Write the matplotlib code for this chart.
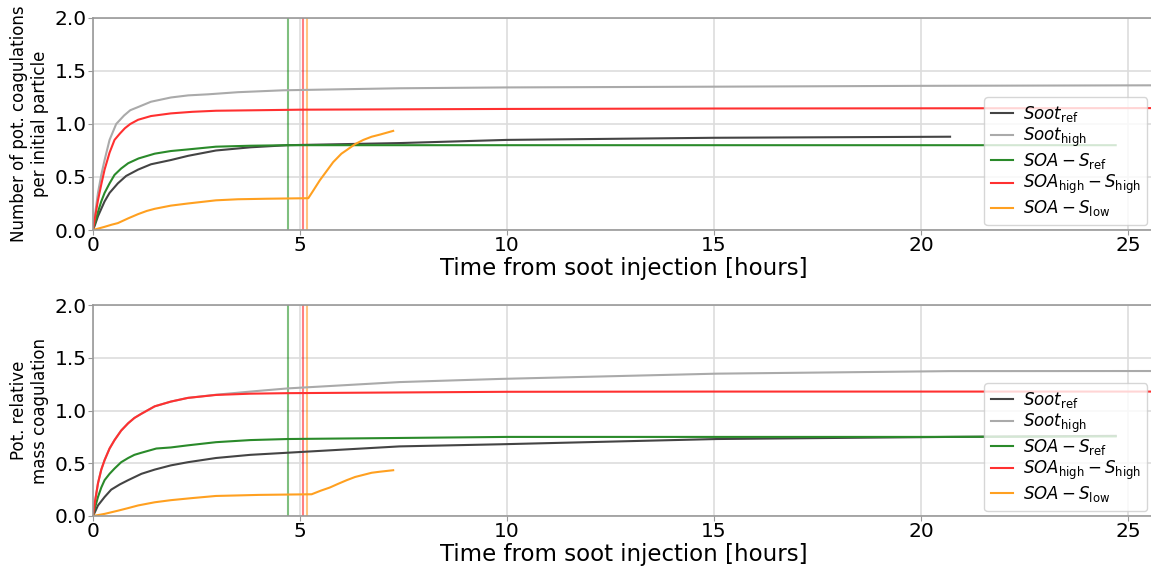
import matplotlib
matplotlib.use("Agg")
import matplotlib.pyplot as plt

# --- number of potential coagulations per initial particle (top) ---
t_num_soot_ref = [0, 0.05, 0.12, 0.2, 0.28, 0.4, 0.6, 0.8, 1.09, 1.4, 1.88, 2.3, 2.97, 3.8,
                  4.7, 7.4, 10, 15, 20.7]
num_soot_ref = [0, 0.05, 0.13, 0.2, 0.27, 0.35, 0.44, 0.51, 0.57, 0.62, 0.66, 0.70, 0.75, 0.78,
                0.80, 0.82, 0.85, 0.87, 0.88]

t_num_soot_high = [0, 0.05, 0.12, 0.2, 0.28, 0.4, 0.56, 0.75, 0.9, 1.09, 1.4, 1.88, 2.3, 2.78,
                   3.5, 4.6, 7.4, 10, 15, 20, 25.7]
num_soot_high = [0, 0.15, 0.35, 0.52, 0.66, 0.85, 1.0, 1.08, 1.13, 1.16, 1.21, 1.25, 1.27, 1.28,
                 1.30, 1.318, 1.337, 1.345, 1.352, 1.36, 1.365]

t_num_soa_ref = [0, 0.05, 0.12, 0.2, 0.28, 0.4, 0.52, 0.68, 0.85, 1.1, 1.49, 1.88, 2.29, 2.97,
                 3.8, 4.7, 10, 15, 20, 24.7]
num_soa_ref = [0, 0.07, 0.17, 0.27, 0.35, 0.44, 0.52, 0.58, 0.63, 0.675, 0.72, 0.745, 0.76, 0.786,
               0.795, 0.80, 0.80, 0.80, 0.80, 0.80]

t_num_soa_high = [0, 0.05, 0.12, 0.2, 0.28, 0.4, 0.52, 0.65, 0.77, 0.9, 1.09, 1.4, 1.88, 2.4,
                  2.97, 4, 5, 10, 15, 20, 25.7]
num_soa_high = [0, 0.12, 0.28, 0.43, 0.57, 0.73, 0.85, 0.91, 0.96, 1.0, 1.04, 1.075, 1.10, 1.115,
                1.125, 1.13, 1.135, 1.142, 1.146, 1.148, 1.15]

t_num_soa_low = [0, 0.28, 0.45, 0.6, 0.85, 1.09, 1.3, 1.49, 1.88, 2.29, 2.97, 3.5, 4.2, 5.2,
                 5.3, 5.48, 5.65, 5.8, 6.0, 6.13, 6.33, 6.53, 6.73, 6.93, 7.25]
num_soa_low = [0, 0.03, 0.05, 0.065, 0.11, 0.15, 0.18, 0.2, 0.23, 0.25, 0.28, 0.29, 0.295, 0.30,
               0.36, 0.47, 0.56, 0.64, 0.72, 0.755, 0.81, 0.85, 0.88, 0.90, 0.935]

# --- potential relative mass coagulation (bottom) ---
t_mass_soot_ref = [0, 0.05, 0.12, 0.2, 0.28, 0.44, 0.65, 0.85, 1.17, 1.49, 1.88, 2.29, 2.97, 3.8,
                   4.7, 7.4, 9.83, 15.07, 20.7, 24.7]
mass_soot_ref = [0, 0.04, 0.10, 0.14, 0.18, 0.25, 0.30, 0.34, 0.40, 0.44, 0.48, 0.51, 0.55, 0.58,
                 0.60, 0.66, 0.68, 0.73, 0.75, 0.76]

t_mass_soot_high = [0, 0.05, 0.12, 0.2, 0.28, 0.4, 0.52, 0.68, 0.85, 1.0, 1.17, 1.49, 1.88, 2.29,
                    2.97, 3.8, 4.7, 7.4, 9.83, 15.07, 20.7, 25.7]
mass_soot_high = [0, 0.14, 0.31, 0.44, 0.53, 0.64, 0.72, 0.81, 0.88, 0.93, 0.97, 1.04, 1.085, 1.12,
                  1.15, 1.18, 1.21, 1.27, 1.30, 1.35, 1.374, 1.375]

t_mass_soa_ref = [0, 0.05, 0.12, 0.2, 0.28, 0.4, 0.52, 0.68, 0.85, 1.0, 1.17, 1.35, 1.53, 1.88,
                  2.29, 2.97, 3.8, 4.7, 7.4, 10, 15, 20, 24.7]
mass_soa_ref = [0, 0.08, 0.18, 0.27, 0.34, 0.40, 0.45, 0.51, 0.55, 0.58, 0.60, 0.62, 0.64, 0.65,
                0.67, 0.70, 0.72, 0.73, 0.74, 0.75, 0.75, 0.75, 0.755]

t_mass_soa_high = [0, 0.05, 0.12, 0.2, 0.28, 0.4, 0.52, 0.68, 0.85, 1.0, 1.17, 1.49, 1.88, 2.29,
                   2.97, 3.8, 4.7, 10, 15, 20, 25.7]
mass_soa_high = [0, 0.14, 0.31, 0.44, 0.53, 0.64, 0.72, 0.81, 0.88, 0.93, 0.97, 1.04, 1.085, 1.12,
                 1.148, 1.16, 1.165, 1.178, 1.18, 1.18, 1.18]

t_mass_soa_low = [0, 0.28, 0.6, 0.85, 1.09, 1.49, 1.88, 2.4, 2.97, 3.5, 4.0, 5.28, 5.5, 5.72,
                  5.92, 6.13, 6.33, 6.53, 6.73, 6.93, 7.25]
mass_soa_low = [0, 0.02, 0.05, 0.075, 0.10, 0.13, 0.15, 0.17, 0.19, 0.195, 0.20, 0.206, 0.24, 0.27,
                0.305, 0.34, 0.37, 0.39, 0.41, 0.42, 0.434]

# end of soot injection for each SOA run
vline_x = [4.70, 5.08, 5.18]
vline_colors = ["green", "red", "darkorange"]

labels = [r"$Soot_{\mathrm{ref}}$", r"$Soot_{\mathrm{high}}$", r"$SOA - S_{\mathrm{ref}}$",
          r"$SOA_{\mathrm{high}} - S_{\mathrm{high}}$", r"$SOA - S_{\mathrm{low}}$"]
colors = ["#444444", "#aaaaaa", "#2a8a2a", "#ff3030", "#ffa020"]

panels = [
    ("Number of pot. coagulations\nper initial particle",
     [(t_num_soot_ref, num_soot_ref), (t_num_soot_high, num_soot_high),
      (t_num_soa_ref, num_soa_ref), (t_num_soa_high, num_soa_high),
      (t_num_soa_low, num_soa_low)]),
    ("Pot. relative\nmass coagulation",
     [(t_mass_soot_ref, mass_soot_ref), (t_mass_soot_high, mass_soot_high),
      (t_mass_soa_ref, mass_soa_ref), (t_mass_soa_high, mass_soa_high),
      (t_mass_soa_low, mass_soa_low)]),
]

fig = plt.figure(figsize=(11.51, 5.73), dpi=100)
positions = [[0.0808, 0.5986, 0.9227, 0.370], [0.0808, 0.0995, 0.9227, 0.368]]

for pos, (ylabel, series) in zip(positions, panels):
    ax = fig.add_axes(pos)
    for xv, c in zip(vline_x, vline_colors):
        ax.axvline(xv, color=c, alpha=0.5, lw=1.5)
    for (t, v), lab, c in zip(series, labels, colors):
        ax.plot(t, v, color=c, lw=1.5, label=lab)
    ax.set_xlim(0, 25.65)
    ax.set_ylim(0, 2.0)
    ax.set_xticks([0, 5, 10, 15, 20, 25])
    ax.set_yticks([0, 0.5, 1.0, 1.5, 2.0])
    ax.grid(True, color="#dddddd", lw=1.2)
    ax.set_axisbelow(True)
    for s in ax.spines.values():
        s.set_color("#999999")
        s.set_linewidth(1.2)
    ax.tick_params(labelsize=14.5, color="#999999", length=3.5, pad=1)
    ax.set_xlabel("Time from soot injection [hours]", fontsize=16.5, labelpad=1)
    ax.set_ylabel(ylabel, fontsize=12, labelpad=4)
    ax.legend(loc="lower right", fontsize=12, handlelength=1.3, handletextpad=0.6,
              labelspacing=0.12, borderaxespad=0.3, bbox_to_anchor=(0.9975, 0))

fig.savefig("out.png", dpi=100)
